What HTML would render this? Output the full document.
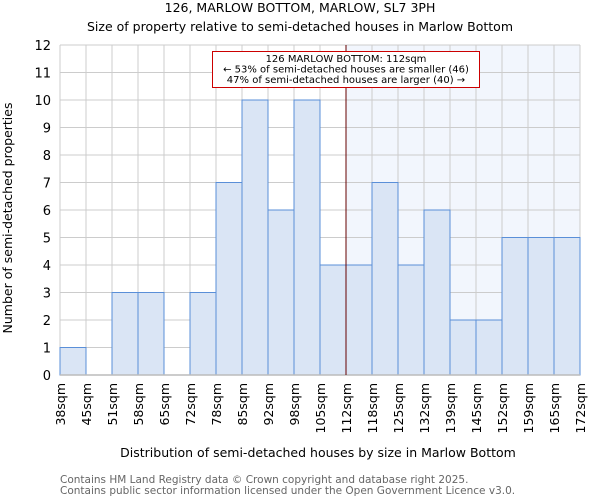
<!DOCTYPE html>
<html><head><meta charset="utf-8"><style>
body{margin:0;background:#fff;font-family:"DejaVu Sans","Liberation Sans",sans-serif}
svg text{font-family:"DejaVu Sans","Liberation Sans",sans-serif}
</style></head><body>
<svg id="chart" width="600" height="500" xmlns="http://www.w3.org/2000/svg">
<text x="300" y="12" font-size="12.5" text-anchor="middle" fill="#000">126, MARLOW BOTTOM, MARLOW, SL7 3PH</text>
<text x="300" y="31" font-size="12.5" text-anchor="middle" fill="#000">Size of property relative to semi-detached houses in Marlow Bottom</text>
<g id="plot"></g>
<text x="318" y="457" font-size="12.5" text-anchor="middle">Distribution of semi-detached houses by size in Marlow Bottom</text>
<text transform="translate(12,218) rotate(-90)" font-size="12.5" text-anchor="middle">Number of semi-detached properties</text>
<text x="60" y="483" font-size="10.5" fill="#666">Contains HM Land Registry data © Crown copyright and database right 2025.</text>
<text x="60" y="494" font-size="10.5" fill="#666">Contains public sector information licensed under the Open Government Licence v3.0.</text>
</svg>
<script>
const categories=["38sqm","45sqm","51sqm","58sqm","65sqm","72sqm","78sqm","85sqm","92sqm","98sqm","105sqm","112sqm","118sqm","125sqm","132sqm","139sqm","145sqm","152sqm","159sqm","165sqm","172sqm"];
const counts=[1,0,3,3,0,3,7,10,6,10,4,4,7,4,6,2,2,5,5,5];
const yTicks=[0,1,2,3,4,5,6,7,8,9,10,11,12];
const markerIndex=11;
const annotationLines=["126 MARLOW BOTTOM: 112sqm","← 53% of semi-detached houses are smaller (46)","47% of semi-detached houses are larger (40) →"];
const NS="http://www.w3.org/2000/svg";
const L=60,R=580,T=45,B=375,yMax=12;
const nb=counts.length,bw=(R-L)/nb;
const xs=i=>L+i*bw, ys=v=>B-(v/yMax)*(B-T);
const g=document.getElementById('plot');
function mk(t,a){const e=document.createElementNS(NS,t);for(const k in a)e.setAttribute(k,a[k]);g.appendChild(e);return e;}
let e=mk('rect',{x:xs(markerIndex),y:T,width:R-xs(markerIndex),height:B-T,fill:'#f2f6fd'});


yTicks.forEach(v=>{let l=mk('line',{x1:L,x2:R,y1:ys(v),y2:ys(v),stroke:'#cccccc','stroke-width':1});


let t=mk('text',{x:L-9,y:ys(v)+5,'font-size':13,'text-anchor':'end'});t.textContent=v;

});
categories.forEach((c,i)=>{let l=mk('line',{x1:xs(i),x2:xs(i),y1:T,y2:B,stroke:'#cccccc','stroke-width':1});


let t=mk('text',{transform:`translate(${xs(i)+5},${B+8}) rotate(-90)`,'font-size':12.5,'text-anchor':'end'});t.textContent=c;

});
counts.forEach((v,i)=>{if(v<=0)return;let r=mk('rect',{x:xs(i),y:ys(v),width:bw,height:B-ys(v),fill:'#dae5f5',stroke:'#5a8fd8','stroke-width':1});

});
let ax=mk('line',{x1:L,x2:R,y1:B,y2:B,stroke:'#bbbbbb','stroke-width':1.5});


let m=mk('line',{x1:xs(markerIndex),x2:xs(markerIndex),y1:T,y2:B,stroke:'#660000','stroke-width':1});


let box=mk('rect',{x:212.5,y:51.5,width:267,height:36,fill:'#fff',stroke:'#cc0000','stroke-width':1});


annotationLines.forEach((s,i)=>{let t=mk('text',{x:346,y:62+i*10.5,'font-size':10,'text-anchor':'middle'});t.textContent=s;

});
</script>
</body></html>
